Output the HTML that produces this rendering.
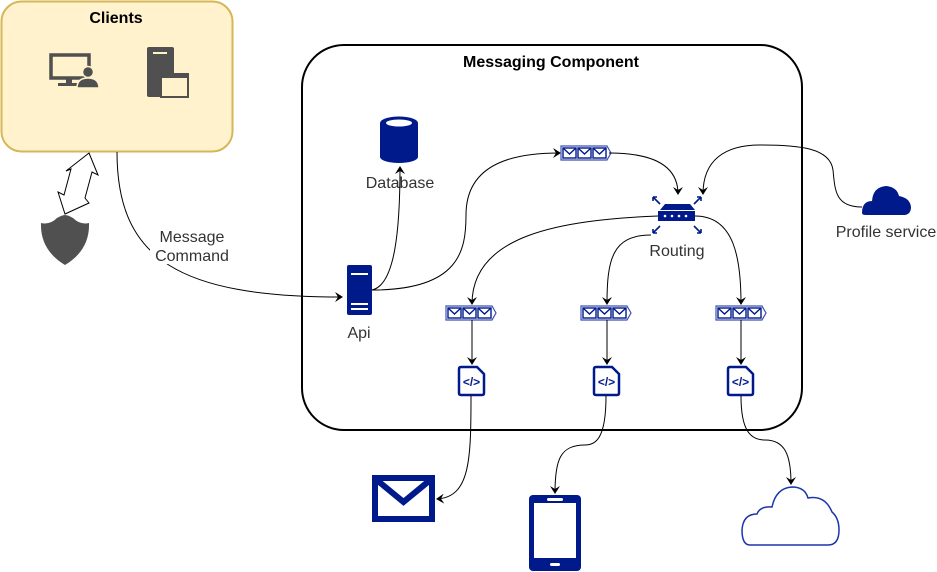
<!DOCTYPE html>
<html><head><meta charset="utf-8"><style>
html,body{margin:0;padding:0;background:#fff}
svg{display:block}
text{font-family:"Liberation Sans",sans-serif}
</style></head><body>
<svg width="937" height="572" viewBox="0 0 937 572" xmlns="http://www.w3.org/2000/svg">
<defs>
<marker id="a" markerWidth="10" markerHeight="10" refX="7" refY="5" orient="auto" markerUnits="userSpaceOnUse">
<path d="M0,0 L8,5 L0,10 L3,5 Z" fill="#000"/>
</marker>
<g id="q">
<path d="M0,0 H46 L50,7 L46,14 H0 Z" fill="#fff" stroke="#3f51b5" stroke-width="1.2"/>
<rect x="2" y="2" width="13" height="10" fill="#fff" stroke="#001a8c" stroke-width="1.4"/>
<path d="M2,2 L8.5,8 L15,2" fill="none" stroke="#001a8c" stroke-width="1.4"/>
<rect x="17" y="2" width="13" height="10" fill="#fff" stroke="#001a8c" stroke-width="1.4"/>
<path d="M17,2 L23.5,8 L30,2" fill="none" stroke="#001a8c" stroke-width="1.4"/>
<rect x="32" y="2" width="13" height="10" fill="#fff" stroke="#001a8c" stroke-width="1.4"/>
<path d="M32,2 L38.5,8 L45,2" fill="none" stroke="#001a8c" stroke-width="1.4"/>
</g>
<g id="c">
<path d="M3,1 H19 L26,8 V27 Q26,29 24,29 H3 Q1,29 1,27 V3 Q1,1 3,1 Z" fill="#fff" stroke="#001a8c" stroke-width="2.5"/>
<text x="13.5" y="20" font-size="12" text-anchor="middle" fill="#001a8c" font-weight="bold">&lt;/&gt;</text>
</g>
</defs>

<!-- Clients -->
<rect x="1.5" y="1.5" width="231" height="150" rx="20" fill="#fff2cc" stroke="#d6b656" stroke-width="2"/>
<text x="116" y="23" font-size="16" font-weight="bold" text-anchor="middle">Clients</text>
<rect x="51" y="55" width="38" height="23" fill="none" stroke="#505050" stroke-width="3.5"/>
<rect x="66" y="78" width="6" height="5" fill="#505050"/>
<rect x="58" y="83" width="22" height="3" fill="#505050"/>
<circle cx="88" cy="72" r="5.5" fill="#505050" stroke="#fff2cc" stroke-width="1.5"/>
<path d="M77,88 Q77,78 88,78 Q99,78 99,88 Z" fill="#505050" stroke="#fff2cc" stroke-width="1.5"/>
<rect x="147" y="47" width="27" height="50" rx="2" fill="#505050"/>
<rect x="153" y="52" width="14" height="2" fill="#fff2cc"/>
<rect x="161" y="74" width="27" height="23" fill="#fff2cc" stroke="#505050" stroke-width="2"/>
<rect x="161" y="74" width="27" height="4" fill="#505050"/>

<!-- double arrow -->
<polygon points="89,153 98,175 92,172 85,198 89,203 65,214 58,192 64,195 71,169 66,171" fill="#fff" stroke="#000" stroke-width="1"/>
<!-- shield -->
<path d="M41,223 Q50,225 57,218 Q62,215 65,215 Q68,215 73,218 Q80,225 89,223 Q90,250 65,265 Q40,250 41,223 Z" fill="#505050"/>

<!-- Message command -->
<path d="M117,152 C117,260 180,297 342,297" fill="none" stroke="#000" stroke-width="1" marker-end="url(#a)"/>
<rect x="150" y="228" width="84" height="36" fill="#fff"/>
<text x="192" y="242" font-size="16" text-anchor="middle" fill="#333">Message</text>
<text x="192" y="261" font-size="16" text-anchor="middle" fill="#333">Command</text>

<!-- Messaging component -->
<rect x="302" y="45" width="500" height="385" rx="42" fill="none" stroke="#000" stroke-width="2"/>
<text x="551" y="67" font-size="16" font-weight="bold" text-anchor="middle">Messaging Component</text>

<!-- Database -->
<path d="M380,123 V157 A19,6 0 0 0 418,157 V123 Z" fill="#001a8c"/>
<ellipse cx="399" cy="123" rx="19" ry="6.5" fill="#001a8c"/>
<ellipse cx="399" cy="123" rx="13" ry="3.5" fill="#fff"/>
<text x="400" y="188" font-size="16" text-anchor="middle" fill="#333">Database</text>

<!-- Api -->
<rect x="347" y="265" width="25" height="50" rx="2" fill="#001a8c"/>
<rect x="351" y="273" width="17" height="2" fill="#fff"/>
<rect x="351" y="303" width="17" height="2" fill="#fff"/>
<rect x="351" y="308" width="17" height="2" fill="#fff"/>
<text x="359" y="338" font-size="16" text-anchor="middle" fill="#333">Api</text>

<!-- connectors from api -->
<path d="M372,290 C395,285 400,230 400,167" fill="none" stroke="#000" marker-end="url(#a)"/>
<path d="M372,290 C460,290 466,250 466,215 C466,160 520,153 560,153" fill="none" stroke="#000" marker-end="url(#a)"/>

<use href="#q" x="561" y="146"/>
<path d="M609,153 C660,153 678,170 678,194" fill="none" stroke="#000" marker-end="url(#a)"/>

<!-- Profile -->
<path d="M862,207 C835,207 835,190 833,170 C830,148 800,145 760,145 C725,145 703,160 703,194" fill="none" stroke="#000" marker-end="url(#a)"/>
<path d="M862,213 Q862,201 872,201 Q873,187 886,186 Q897,187 899,196 Q910,198 911,207 Q911,214 905,215 H866 Q862,215 862,213 Z" fill="#001a8c"/>
<text x="886" y="237" font-size="16" text-anchor="middle" fill="#333">Profile service</text>

<!-- Router -->
<path d="M660,210 L665,204 H690 L695,210 Z" fill="#001a8c"/>
<rect x="658" y="211" width="37" height="10" fill="#001a8c"/>
<circle cx="665" cy="216" r="1.3" fill="#fff"/><circle cx="672" cy="216" r="1.3" fill="#fff"/><circle cx="679" cy="216" r="1.3" fill="#fff"/><circle cx="686" cy="216" r="1.3" fill="#fff"/>
<g stroke="#001a8c" stroke-width="1.6" fill="none">
<path d="M653,197 L660,204 M653,197 h4 M653,197 v4"/>
<path d="M701,197 L694,204 M701,197 h-4 M701,197 v4"/>
<path d="M653,233 L660,226 M653,233 h4 M653,233 v-4"/>
<path d="M701,233 L694,226 M701,233 h-4 M701,233 v-4"/>
</g>
<text x="677" y="256" font-size="16" text-anchor="middle" fill="#333">Routing</text>

<path d="M658,216 C560,220 472,235 472,304" fill="none" stroke="#000" marker-end="url(#a)"/>
<path d="M651,235 C612,235 607,260 607,304" fill="none" stroke="#000" marker-end="url(#a)"/>
<path d="M695,216 C735,216 741,260 741,304" fill="none" stroke="#000" marker-end="url(#a)"/>

<use href="#q" x="446" y="306"/>
<use href="#q" x="581" y="306"/>
<use href="#q" x="716" y="306"/>

<path d="M472,320 V364" stroke="#000" marker-end="url(#a)"/>
<path d="M607,320 V364" stroke="#000" marker-end="url(#a)"/>
<path d="M741,320 V364" stroke="#000" marker-end="url(#a)"/>

<use href="#c" x="458" y="366"/>
<use href="#c" x="593" y="366"/>
<use href="#c" x="727" y="366"/>

<path d="M471,396 C471,460 470,497 437,499" fill="none" stroke="#000" marker-end="url(#a)"/>
<path d="M606,396 C606,440 595,445 585,445 C560,445 555,460 555,493" fill="none" stroke="#000" marker-end="url(#a)"/>
<path d="M741,396 C741,430 750,440 765,440 C785,440 791,455 791,484" fill="none" stroke="#000" marker-end="url(#a)"/>

<!-- Mail -->
<rect x="375" y="478" width="57" height="41" fill="none" stroke="#001a8c" stroke-width="6"/>
<path d="M378,481 L403.5,502 L429,481" fill="none" stroke="#001a8c" stroke-width="6"/>
<!-- Tablet -->
<rect x="529" y="495" width="52" height="76" rx="4" fill="#001a8c"/>
<rect x="534" y="503" width="42" height="55" fill="#fff"/>
<rect x="547" y="498" width="16" height="3" rx="1.5" fill="#fff"/>
<rect x="550" y="563" width="10" height="3" rx="1.5" fill="#fff"/>
<!-- Cloud outline -->
<path d="M750,545 Q742,545 742,530 Q743,514 757,514 Q760,506 772,507 Q776,488 792,487 Q805,487 808,498 Q825,495 832,512 Q839,518 839,530 Q839,545 828,545 Z" fill="#fff" stroke="#1a36a8" stroke-width="1.5"/>
</svg>
</body></html>
